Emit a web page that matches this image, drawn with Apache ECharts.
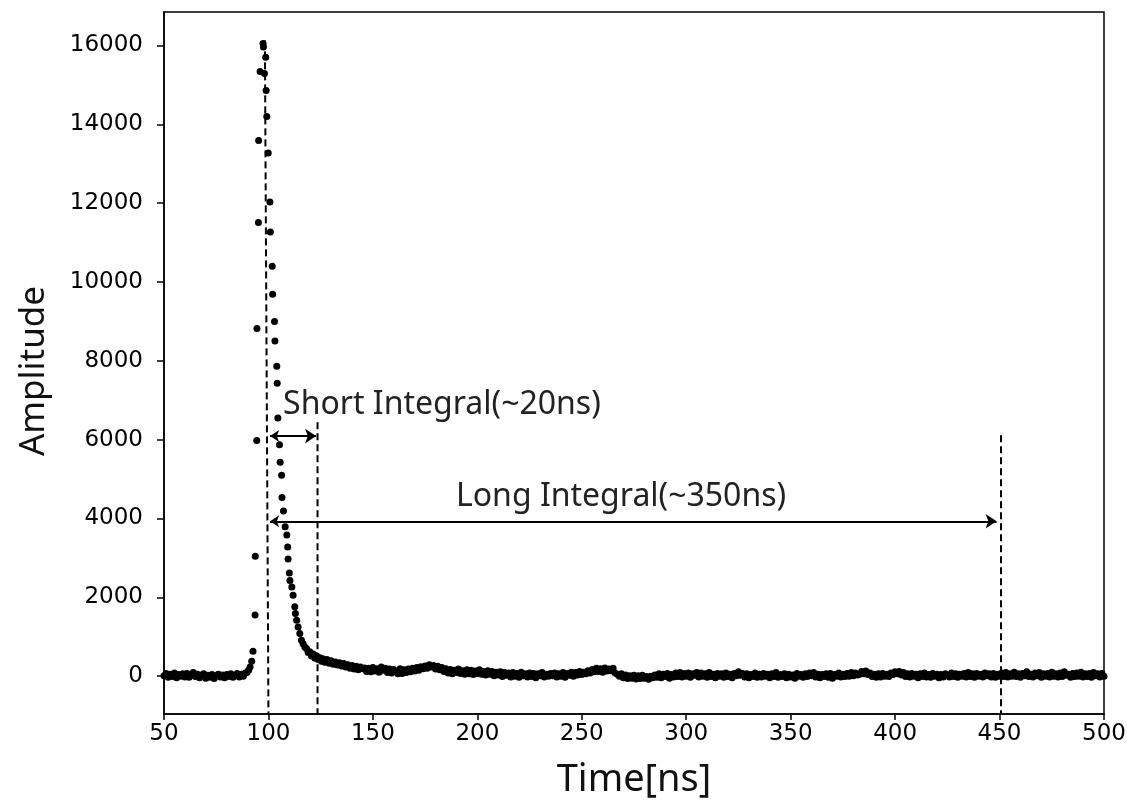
<!DOCTYPE html>
<html><head><meta charset="utf-8">
<script src="https://cdn.jsdelivr.net/npm/echarts@6/dist/echarts.min.js"></script>
<style>html,body{margin:0;padding:0;background:#fff}#c{width:1127px;height:802px}</style>
</head><body><div id="c"></div>
<script>
// ---- data ----
const preStart = 50, preStep = 1;
const preAmps = [10, 70, -30, 50, -10, 80, -40, 40, 0, 60,
  -20, 70, -30, 40, 90, -10, 50, -40, 30, 60,
  -50, 20, -30, 40, -60, 10, 50, -20, 30, -40,
  40, -10, 60, -30, 20, 70, -20, 50, 0, 80];

const pulseTimes = [89.7, 90.5, 91.2, 92.0, 92.6, 93.6, 93.7, 94.4, 94.5, 95.2, 95.3, 96.0,
  97.4, 97.6, 98.1, 98.7, 98.9, 99.2, 99.9, 100.7, 100.9, 101.8, 102.0, 102.9, 103.1,
  104.0, 104.2, 104.5, 105.3, 105.6, 106.3, 106.5, 107.2, 108.0, 108.8, 109.2, 109.4,
  110.0, 110.3, 111.2, 111.8, 112.6, 112.9, 113.5, 114.2, 115.0, 115.8, 116.6, 117.4,
  118.2, 119.0, 119.8, 120.6, 121.4, 122.2, 123.0, 123.8, 124.6, 125.4];
const pulseAmps = [90, 150, 235, 380, 630, 1550, 3040, 5980, 8820, 11510, 13590, 15340,
  16050, 15960, 15290, 15700, 14860, 14200, 13270, 12030, 11270, 10400, 9690, 9000, 8500,
  7860, 7430, 6550, 5870, 5430, 5100, 4530, 4190, 3790, 3580, 3280, 2970,
  2620, 2430, 2260, 2050, 1760, 1590, 1420, 1250, 1080, 910, 820, 740,
  700, 600, 620, 510, 560, 460, 520, 420, 470, 380];

const tailStart = 126, tailStep = 1;
const tailAmps = [440, 350, 420, 330, 390, 300, 360, 280, 340, 260,
  320, 230, 290, 200, 270, 180, 250, 160, 230, 190,
  210, 120, 200, 110, 220, 130, 190, 100, 230, 150,
  200, 90, 180, 80, 170, 110, 60, 190, 70, 160,
  90, 180, 110, 200, 130, 220, 150, 240, 190, 260,
  200, 290, 230, 270, 180, 250, 160, 220, 120, 190,
  80, 170, 60, 150, 90, 180, 70, 140, 50, 160,
  60, 150, 40, 130, 70, 160, 50, 120, 30, 140,
  50, 120, 10, 100, 30, 110, -10, 90, 20, 80,
  -20, 90, 0, 70, -30, 100, 10, 60, -20, 80,
  -10, 70, -40, 60, 10, 90, -20, 50, 0, 70,
  10, 80, -20, 60, 0, 90, -30, 70, 20, 100,
  0, 90, 30, 120, 40, 100, 60, 140, 80, 170,
  110, 200, 120, 190, 100, 210, 130, 180, 140, 200,
  80, 50, 0, 60, -40, 30, -60, 10, -50, 20,
  -70, 10, -60, 20, -50, -10, -80, 0, -40, 30,
  -30, 60, -40, 50, -10, 70, -50, 40, -20, 80,
  -10, 90, -20, 70, 0, 80, -30, 60, 20, 90,
  -20, 80, 0, 60, -30, 90, -10, 50, -40, 70,
  0, 60, -30, 80, -10, 50, -40, 70, 10, 110,
  20, 70, -20, 60, -40, 40, -10, 80, -30, 50,
  -20, 70, 0, 50, -40, 60, -10, 90, -30, 40,
  -10, 60, -40, 50, -20, 30, -50, 70, 0, 40,
  -30, 60, -10, 80, 10, 90, -20, 50, -40, 40,
  -10, 60, -30, 70, -50, 40, 0, 80, -20, 50,
  -10, 70, 0, 90, 10, 80, 30, 50, 120, 60,
  130, 40, 80, -10, 50, -30, 60, -20, 70, 0,
  50, -10, 80, 40, 110, 60, 120, 30, 90, -10,
  60, -20, 70, 0, 50, -40, 60, -10, 80, -20,
  40, -30, 70, 0, 50, -40, 40, -20, 60, 10,
  -20, 80, -10, 60, -30, 50, 0, 70, -20, 90,
  -10, 60, -30, 70, 0, 50, -20, 80, 10, 60,
  -20, 70, -30, 50, 0, 80, -10, 90, -20, 60,
  0, 100, -10, 60, -30, 70, 10, 110, -10, 50,
  -20, 80, 10, 90, -30, 60, 0, 70, -20, 100,
  0, 60, -20, 80, -10, 110, 20, 50, -30, 70,
  -10, 80, 0, 100, -20, 60, -10, 70, -30, 90,
  10, 60, -20, 70, 0];

const yTicks = [0, 2000, 4000, 6000, 8000, 10000, 12000, 14000, 16000];
const xMin = 50, xMax = 500, xStep = 50;
const yMin = -960, yMax = 16850;

const peakLineT = [98.3, 100.0], peakLineA = [16130, -960];
const shortEndLineT = [123.5, 123.5], shortEndLineA = [6440, -960];
const longEndLineT = [450.7, 450.7], longEndLineA = [6110, -960];
const shortArrowT = [100.8, 122.8], shortArrowA = 6090;
const longArrowT = [100.8, 448.6], longArrowA = 3930;
const noteTexts = ['Short Integral(~20ns)', 'Long Integral(~350ns)'];
const noteT = [107.0, 268.8], noteA = [6870, 4540], noteAlign = ['left', 'center'];

// ---- build ----
const points = [];
preAmps.forEach((a, i) => points.push([preStart + i * preStep, a]));
pulseAmps.forEach((a, i) => points.push([pulseTimes[i], a]));
tailAmps.forEach((a, i) => points.push([tailStart + i * tailStep, a]));
const pair = (ts, as) => ts.map((t, i) => [t, as[i]]);

const dashStyle = { color: '#000', width: 2, type: [7, 4] };
const chart = echarts.init(document.getElementById('c'), null, { renderer: 'canvas' });
chart.setOption({
  backgroundColor: '#fff',
  animation: false,
  grid: { left: 164, right: 23, top: 12, bottom: 88, outerBoundsMode: 'none', containLabel: false,
    show: true, borderColor: '#000', borderWidth: 1.5, backgroundColor: 'transparent' },
  xAxis: {
    type: 'value', min: xMin, max: xMax, interval: xStep,
    name: 'Time[ns]', nameLocation: 'middle', nameGap: 47,
    nameTextStyle: { fontFamily: 'Noto Sans', fontSize: 38, color: '#111' },
    axisLine: { show: true, onZero: false, lineStyle: { color: '#000', width: 1.5 } },
    axisTick: { show: true, inside: false, length: 6, lineStyle: { color: '#000', width: 1.5 } },
    axisLabel: { margin: 9, fontFamily: 'DejaVu Sans', fontSize: 23, color: '#000' },
    splitLine: { show: false }
  },
  yAxis: {
    type: 'value', min: yMin, max: yMax,
    name: 'Amplitude', nameLocation: 'middle', nameGap: 112, nameRotate: 90,
    nameTextStyle: { fontFamily: 'Noto Sans', fontSize: 35, color: '#111', padding: [0, 16, 0, 0] },
    axisLine: { show: true, onZero: false, lineStyle: { color: '#000', width: 1.5 } },
    axisTick: { show: true, inside: false, length: 7, customValues: yTicks, lineStyle: { color: '#000', width: 1.5 } },
    axisLabel: { margin: 21, customValues: yTicks, formatter: v => String(v), fontFamily: 'DejaVu Sans', fontSize: 23, color: '#000' },
    splitLine: { show: false }
  },
  series: [
    { type: 'scatter', data: points, symbol: 'circle', symbolSize: 7, itemStyle: { color: '#000', opacity: 1 }, z: 3 },
    { type: 'line', data: pair(peakLineT, peakLineA), symbol: 'none', lineStyle: dashStyle, z: 4 },
    { type: 'line', data: pair(shortEndLineT, shortEndLineA), symbol: 'none', lineStyle: dashStyle, z: 4 },
    { type: 'line', data: pair(longEndLineT, longEndLineA), symbol: 'none', lineStyle: dashStyle, z: 4 },
    { type: 'lines', coordinateSystem: 'cartesian2d', z: 5,
      symbol: ['arrow', 'arrow'], symbolSize: [9, 11],
      lineStyle: { color: '#000', width: 2, opacity: 1 },
      data: [
        { coords: [[shortArrowT[0], shortArrowA], [shortArrowT[1], shortArrowA]] },
        { coords: [[longArrowT[0], longArrowA], [longArrowT[1], longArrowA]] }
      ] }
  ]
});
const gfx = noteTexts.map((txt, i) => {
  const p = chart.convertToPixel({ gridIndex: 0 }, [noteT[i], noteA[i]]);
  return { type: 'text', x: p[0], y: p[1], z: 10,
    style: { text: txt, fontFamily: 'Noto Sans', fontSize: 32, fill: '#222', align: noteAlign[i], verticalAlign: 'middle' } };
});
chart.setOption({ graphic: gfx });
</script></body></html>
